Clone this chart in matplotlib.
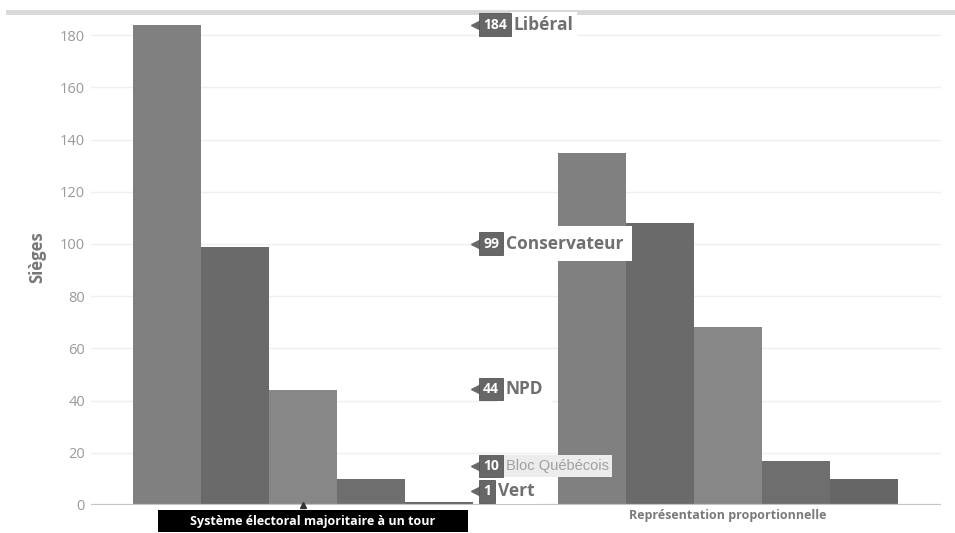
import matplotlib
matplotlib.use("Agg")
import matplotlib.pyplot as plt
import numpy as np
from matplotlib.patches import Rectangle
from matplotlib.lines import Line2D
from matplotlib.transforms import blended_transform_factory, offset_copy

# ---- data ----
systems = ["Système électoral majoritaire à un tour", "Représentation proportionnelle"]
parties = ["Libéral", "Conservateur", "NPD", "Bloc Québécois", "Vert"]
seats_fptp = [184, 99, 44, 10, 1]
seats_pr = [135, 108, 68, 17, 10]
yticks = [0, 20, 40, 60, 80, 100, 120, 140, 160, 180]

# ---- style ----
colors = ["#808080", "#6a6a6a", "#878787", "#6e6e6e", "#666666"]
label_dy_px = [0, 3, 1, 13, 11]          # vertical nudges of the tags (pixels)
FONT = ["Open Sans", "DejaVu Sans"]
plt.rcParams['font.family'] = FONT

W, H = 955, 533
fig = plt.figure(figsize=(W / 100, H / 100), dpi=100)
ax = fig.add_axes([90.5 / W, 28 / H, 850 / W, 496 / H])
ax.patch.set_visible(False)

# top grey band
fig.add_artist(Line2D([8 / W, 1.0], [1 - 12 / H, 1 - 12 / H], transform=fig.transFigure,
                      color="#d9d9d9", lw=3.5, zorder=-5))

x = np.arange(len(systems))
n = len(parties)
w = 0.8 / n
for i in range(n):
    ax.bar(x + (i - (n - 1) / 2) * w, [seats_fptp[i], seats_pr[i]], width=w,
           color=colors[i], linewidth=0, zorder=2)

ax.set_xlim(-0.5, 1.5)
ax.set_ylim(0, 190)
ax.set_yticks(yticks)
ax.set_yticklabels([str(t) for t in yticks])
ax.tick_params(axis='y', length=0, pad=4, labelsize=10.5, labelcolor="#9a9a9a")
ax.set_xticks([])
for s in ax.spines.values():
    s.set_visible(False)
for t in yticks[1:]:
    ax.axhline(t, color="#efefef", lw=1, zorder=0)
ax.axhline(0, color="#c4c4c4", lw=1.6, zorder=3)

ax.set_ylabel("Sièges", fontsize=12, fontweight='bold', color="#777777", labelpad=10)

# small marker below first group
ax.plot([0], [0], marker='^', color="#333333", markersize=5, clip_on=False, zorder=4)

# x category labels
trans = blended_transform_factory(ax.transData, ax.transAxes)
ax.add_patch(Rectangle((-0.729 / 2, 0), 0.729, 22 / 496,
                       transform=offset_copy(trans, fig=fig, x=10, y=-27, units='dots'),
                       facecolor="black", edgecolor="none", clip_on=False, zorder=5))
ax.text(0, 0, systems[0], transform=offset_copy(trans, fig=fig, x=10, y=-16, units='dots'),
        ha='center', va='center', color='white', fontsize=9, fontweight='bold', zorder=6)
ax.text(1, 0, systems[1], transform=offset_copy(trans, fig=fig, x=0, y=-10, units='dots'),
        ha='center', va='center', color='#7a7a7a', fontsize=9, fontweight='bold', zorder=6)

# party tags (placed at the first-past-the-post value)
tagtrans = blended_transform_factory(ax.transAxes, ax.transData)
tag_x = (483 - 90.5) / 850
arrow_x = (477 - 90.5) / 850
for i, p in enumerate(parties):
    v = seats_fptp[i]
    dy = label_dy_px[i]
    tr = offset_copy(tagtrans, fig=fig, x=0, y=dy, units='dots')
    ax.plot([arrow_x], [v], marker='<', color="#686868", markersize=8,
            transform=tr, clip_on=False, zorder=7)
    tag = ax.text(tag_x, v, str(v), transform=tr, ha='left', va='center',
                  color='white', fontsize=10, fontweight='bold', zorder=8,
                  bbox=dict(boxstyle='square,pad=0.3', fc="#676767", ec="#555555", lw=0.6))
    if p == "Bloc Québécois":
        ax.annotate(p, xy=(1, 0.5), xycoords=tag, xytext=(5, 0), textcoords='offset points',
                    ha='left', va='center', fontsize=10.5, color="#a0a0a0",
                    family=["Liberation Sans", "DejaVu Sans"], zorder=6,
                    bbox=dict(boxstyle='square,pad=0.25', fc="#ececec", ec='none'))
    elif p == "Vert":
        ax.annotate(p, xy=(1, 0.5), xycoords=tag, xytext=(5, 0), textcoords='offset points',
                    ha='left', va='center', fontsize=12.5, fontweight='bold', color="#707070",
                    zorder=6, bbox=dict(boxstyle='square,pad=0.2', fc="white", ec='none'))
    else:
        pad = 0.2 if p == "Libéral" else 0.5
        ax.annotate(p, xy=(1, 0.5), xycoords=tag, xytext=(5, 0), textcoords='offset points',
                    ha='left', va='center', fontsize=12.5, fontweight='bold', color="#6f6f6f",
                    zorder=6, bbox=dict(boxstyle='square,pad=%s' % pad, fc="white", ec='none'))

fig.savefig("out.png", dpi=100)
